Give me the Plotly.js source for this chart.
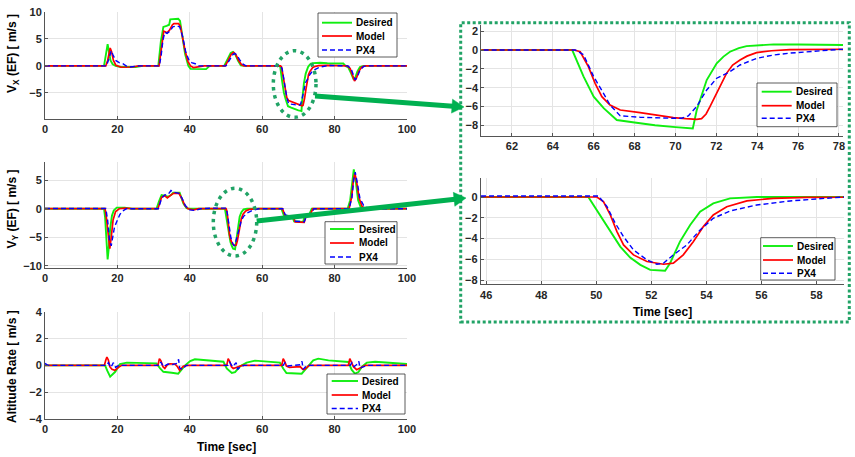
<!DOCTYPE html>
<html>
<head>
<meta charset="utf-8">
<script src="https://cdn.plot.ly/plotly-3.0.1.min.js"></script>
<style>html,body{margin:0;padding:0;background:#fff;}#chart{width:855px;height:457px;}</style>
</head>
<body>
<div id="chart"></div>
<script>
// ---------------- DATA (time [s], value) ----------------
const seriesNames = ['Desired', 'Model', 'PX4'];

const vxDesired = [[0,0],[16.3,0],[16.8,2.0],[17.3,4.0],[17.7,2.5],[18.1,1.0],[18.7,0.3],[19.5,0],[21,-0.2],[25,-0.2],[27,0],
  [31.3,0],[32.0,4.5],[32.7,7.2],[33.6,7.4],[34.3,7.6],[34.6,8.6],[36.8,8.7],[37.3,8.3],[37.9,6.0],[38.7,2.2],[39.6,0],[40.2,-0.55],[44.5,-0.6],[45.5,0],
  [49.5,0],[50.4,1.2],[51.3,2.4],[51.9,2.6],[52.5,2.2],[53.3,1.0],[54.1,0.1],[55,0],
  [64.95,0],[65.5,-2.8],[66.0,-4.96],[66.5,-6.2],[67.13,-7.44],[68,-7.7],[69,-8.0],[70,-8.2],[70.7,-8.3],[70.85,-8.35],[71.04,-6.4],[71.3,-4.7],[71.53,-3.19],[72.02,-1.42],[72.35,-0.7],[72.67,-0.18],[73.1,0.2],[73.48,0.42],[74,0.52],[74.8,0.6],[76,0.58],[78,0.5],[80,0.5],[82.4,0.45],[83,0],
  [83.8,-0.3],[84.5,-1.3],[85.2,-2.4],[85.7,-2.2],[86.3,-1.0],[87,-0.2],[88,0],[100,0]];
const vxModel = [[0,0],[16.8,0],[17.3,1.0],[17.7,2.5],[18.0,3.3],[18.4,2.6],[18.9,1.0],[19.6,0.1],[21,-0.25],[24,-0.2],[26,0],
  [31.5,0],[32.0,2.5],[32.4,5.0],[32.8,6.4],[33.2,6.3],[33.7,6.1],[34.4,6.6],[35.2,7.6],[35.6,7.8],[36.9,7.8],[37.4,7.3],[37.9,5.5],[38.7,2.8],[39.5,0.8],[40.2,0],[41,-0.3],[42.5,-0.2],[44,0],
  [49.8,0],[50.6,1.0],[51.5,2.2],[52.1,2.5],[52.7,2.1],[53.5,1.0],[54.3,0.2],[55,0],
  [65.05,0],[65.34,-0.18],[65.74,-1.77],[66.07,-3.54],[66.4,-4.96],[66.8,-5.85],[67.3,-6.38],[68.27,-6.66],[69.1,-6.95],[69.9,-7.19],[70.5,-7.3],[71.04,-7.37],[71.28,-7.3],[71.5,-6.8],[71.69,-6.02],[72.1,-4.25],[72.5,-2.48],[72.8,-1.6],[73.16,-1.06],[73.5,-0.65],[73.97,-0.28],[74.7,-0.08],[75.6,0.05],[78,0.08],[80,0.05],
  [83.5,0],[84.3,-0.5],[84.9,-1.8],[85.5,-2.8],[86.0,-2.3],[86.7,-1.0],[87.5,-0.2],[88.5,0],[100,0]];
const vxPX4 = [[0,0],[17.0,0],[17.6,1.2],[18.0,2.4],[18.3,2.8],[18.8,2.0],[19.5,1.0],[20.5,0.6],[21.5,0.4],[22.5,-0.05],[23.5,-0.2],[26,0],
  [31.6,0],[32.1,2.0],[32.6,4.8],[33.1,6.2],[33.7,6.0],[34.5,6.4],[35.3,7.2],[36.5,7.4],[37.2,7.2],[38,5.5],[38.9,2.5],[39.8,1.0],[40.5,0.6],[41.5,0.4],[42.5,0],
  [50,0],[50.8,1.0],[51.8,2.0],[52.4,2.3],[53,2.0],[53.8,1.1],[54.6,0.4],[55.5,0],
  [65.1,0],[65.5,-0.5],[66.0,-2.83],[66.48,-4.6],[66.8,-5.85],[67.3,-7.0],[68.27,-7.14],[69.9,-7.26],[70.3,-7.25],[70.63,-7.0],[71.04,-6.0],[71.53,-4.25],[72.02,-3.0],[72.67,-2.3],[73.16,-1.59],[73.97,-0.89],[74.79,-0.53],[75.6,-0.33],[76.42,-0.18],[77.2,-0.05],[78.05,0.07],[80,0.05],
  [83.7,0],[84.6,-0.6],[85.2,-1.9],[85.7,-2.6],[86.3,-2.0],[87,-0.8],[88,-0.1],[89,0],[100,0]];

const vyDesired = [[0,0],[16.3,0],[16.6,-1.5],[16.95,-5.0],[17.3,-8.9],[17.6,-7.0],[18.0,-3.5],[18.5,-1.2],[19.0,-0.3],[19.8,0.2],[22,0.2],[24,0],
  [30.8,0],[31.5,1.3],[32.2,2.4],[33,2.3],[34,2.1],[34.8,2.4],[35.4,2.8],[37.2,2.8],[37.7,2.0],[38.2,0.95],[39.1,0.1],[40,0],
  [49.71,0],[50.14,-1.73],[50.51,-3.33],[50.87,-4.77],[51.23,-5.83],[51.6,-6.53],[51.96,-7.01],[52.5,-7.1],[52.68,-6.37],[53.04,-4.29],[53.41,-2.69],[53.77,-1.41],[54.25,-0.61],[54.86,-0.13],[55.83,0],[59,0.02],
  [65.3,0],[66.0,-1.2],[68.3,-1.3],[68.8,-2.2],[71.3,-2.3],[71.8,-1.2],[73,-1.0],[73.7,0],
  [83.6,0],[84.3,1.5],[84.9,5.0],[85.3,6.9],[85.8,5.0],[86.5,1.5],[87.2,0.3],[88,0],[100,0]];
const vyModel = [[0,0],[16.6,0],[17.0,-1.8],[17.5,-5.5],[17.9,-7.0],[18.3,-5.0],[18.8,-2.0],[19.5,-0.5],[20.5,0],[22,0.1],[24,0],
  [31.2,0],[32.2,2.0],[33,2.3],[33.8,1.9],[34.6,2.3],[35.5,2.7],[37,2.7],[37.8,1.8],[38.6,0.6],[39.5,0],[41,-0.2],[42.5,0],
  [50.02,0],[50.26,-0.45],[50.51,-1.73],[50.75,-3.33],[50.99,-4.61],[51.35,-5.57],[51.84,-6.21],[52.44,-6.47],[52.8,-6.37],[53.16,-5.57],[53.53,-4.29],[53.89,-2.85],[54.25,-1.73],[54.74,-0.93],[55.47,-0.38],[56.43,-0.13],[57.64,-0.03],[59,0],
  [65.6,0],[66.3,-1.2],[68.6,-1.4],[69.1,-2.3],[71.6,-2.4],[72.1,-1.3],[73.3,-1.0],[74.0,0],
  [84,0],[84.7,2.0],[85.2,5.0],[85.6,6.2],[86,5.0],[86.8,1.8],[87.6,0.4],[88.5,0],[100,0]];
const vyPX4 = [[0,0.05],[16.8,0.05],[17.3,-2.0],[17.8,-5.5],[18.3,-6.5],[18.7,-5.0],[19.2,-3.2],[20,-2.0],[20.7,-1.0],[21.5,-0.4],[22.5,0],
  [31.3,0],[32.2,1.8],[33,2.4],[34,2.5],[34.8,3.2],[35.5,2.9],[37,2.7],[37.9,1.8],[38.8,0.5],[40,-0.2],[41.5,-0.3],[43,0],
  [45.8,0.1],[50.08,0.1],[50.39,-0.93],[50.69,-2.53],[50.99,-3.81],[51.35,-5.09],[51.84,-6.05],[52.2,-6.47],[52.44,-6.37],[52.8,-5.57],[53.29,-4.61],[53.77,-3.17],[54.25,-2.05],[54.86,-1.34],[55.83,-0.77],[57.04,-0.38],[58.25,-0.13],[58.97,0],
  [65.7,0],[66.4,-1.1],[68.7,-1.4],[69.2,-2.2],[71.6,-2.3],[72.2,-1.4],[73.5,-0.9],[74.3,0],
  [84,0],[84.8,2.0],[85.3,5.2],[85.7,6.4],[86.2,4.8],[87,1.8],[88,0.6],[89,0.2],[90,0],[100,0]];

const altDesired = [[0,0],[16.6,0],[17.2,-0.4],[18.0,-0.85],[19.4,-0.48],[20.7,0.1],[22.6,0.2],[30.8,0.15],
  [31.8,-0.23],[32.7,-0.48],[35.0,-0.55],[36.8,-0.62],[37.5,-0.4],[38.7,0],[40.1,0.32],[41.4,0.45],[49.3,0.27],
  [50.2,-0.23],[51.6,-0.57],[52.5,-0.5],[53.9,-0.07],[55.7,0.2],[58.0,0.35],[59.9,0.3],[64.9,0.2],
  [65.8,-0.23],[66.7,-0.57],[70.9,-0.62],[71.6,-0.4],[72.7,0],[74.1,0.37],[75.5,0.5],[78.3,0.37],[83.8,0.25],
  [84.7,-0.32],[85.6,-0.62],[86.6,-0.5],[87.5,-0.12],[88.9,0.2],[91.2,0.27],[100,0.1]];
const altModel = [[0,0],[16.4,0],[16.8,0.4],[17.1,0.62],[17.5,0.4],[17.9,-0.1],[18.5,-0.3],[19.3,-0.37],[20.3,-0.15],[21.2,0],
  [31.2,0],[31.6,0.5],[32.0,0.35],[32.6,-0.1],[33.1,-0.23],[33.8,0.05],[34.5,0.12],[35.9,0.1],[36.6,-0.1],[37.2,-0.37],[38.2,-0.07],[39.5,0],
  [50.2,0],[50.6,0.5],[51.0,0.3],[51.5,-0.1],[52.0,-0.23],[53.4,-0.1],[54.5,0],
  [65.4,0],[65.8,0.5],[66.2,0.3],[66.7,-0.05],[67.5,-0.15],[70.5,-0.1],[71.2,-0.3],[71.7,-0.3],[73,0],
  [83.8,0],[84.2,0.5],[84.6,0.3],[85.2,-0.1],[86.1,-0.32],[87.5,-0.1],[88.5,0],[100,0]];
const altPX4 = [[0,0.15],[0.8,0],[17,0],[17.5,0.2],[18.2,-0.15],[18.9,0.2],[19.5,-0.15],[20.3,0],
  [31.5,0],[32,0.25],[32.7,-0.1],[34,0.1],[35,0.05],[36.5,0.15],[36.9,0.45],[37.2,-0.2],[38,-0.3],[39,0],
  [50.5,0],[51,0.25],[51.8,-0.1],[52.8,0.2],[53.2,-0.3],[54,-0.1],[55,0],
  [65.8,0],[66.3,0.2],[67,-0.05],[70.5,0.05],[71,0.3],[71.3,-0.3],[72,-0.1],[73,0],
  [84.3,0],[84.8,0.2],[85.4,-0.1],[86.3,0.1],[86.7,0.3],[87,-0.2],[88,-0.1],[89,0],[100,0]];

const mainXTicks = [0, 20, 40, 60, 80, 100];
const vxYTicks = [-5, 0, 5, 10];
const vyYTicks = [-10, -5, 0, 5];
const altYTicks = [-4, -2, 0, 2, 4];
const zoomVxXTicks = [62, 64, 66, 68, 70, 72, 74, 76, 78];
const zoomVxYTicks = [2, 0, -2, -4, -6, -8];
const zoomVyXTicks = [46, 48, 50, 52, 54, 56, 58];
const zoomVyYTicks = [0, -2, -4, -6, -8];

// ---------------- STYLE / LAYOUT ----------------
const W = 855, H = 457;
const X = px => px / W;
const Y = py => 1 - py / H;
const FONT = 'Arial, "Liberation Sans", sans-serif';
const colors = ['#10ee10', '#ff0000', '#0000ff'];
const dashes = ['solid', 'solid', '5px,3px'];
const widths = [1.9, 1.7, 1.4];

const panelSeries = {
  vx: [vxDesired, vxModel, vxPX4],
  vy: [vyDesired, vyModel, vyPX4],
  alt: [altDesired, altModel, altPX4]
};

const traces = [];
function addPanel(series, xa, ya) {
  series.forEach((s, i) => {
    traces.push({
      type: 'scatter', mode: 'lines',
      x: s.map(p => p[0]), y: s.map(p => p[1]),
      xaxis: xa, yaxis: ya, name: seriesNames[i], showlegend: false,
      line: {color: colors[i], width: widths[i], dash: dashes[i]},
      hoverinfo: 'skip'
    });
  });
}
addPanel(panelSeries.vx, 'x', 'y');
addPanel(panelSeries.vy, 'x2', 'y2');
addPanel(panelSeries.alt, 'x3', 'y3');
addPanel(panelSeries.vx, 'x4', 'y4');
addPanel(panelSeries.vy, 'x5', 'y5');

function axis(extra) {
  return Object.assign({
    showline: true, linecolor: '#555', linewidth: 1, mirror: false,
    ticks: 'inside', ticklen: 3, tickcolor: '#555',
    showgrid: true, gridcolor: '#e4e4e4', gridwidth: 1, zeroline: false,
    tickfont: {family: FONT, size: 11, color: '#262626', weight: 'bold'},
    tickmode: 'array', fixedrange: true, automargin: false
  }, extra);
}

const layout = {
  width: W, height: H,
  margin: {l: 0, r: 0, t: 0, b: 0},
  paper_bgcolor: '#fff', plot_bgcolor: '#fff',
  showlegend: false,
  xaxis: axis({domain: [X(45), X(407)], range: [0, 100], tickvals: mainXTicks, anchor: 'y'}),
  yaxis: axis({domain: [Y(119), Y(11.7)], range: [-9.8, 10], tickvals: vxYTicks, anchor: 'x'}),
  xaxis2: axis({domain: [X(45), X(407)], range: [0, 100], tickvals: mainXTicks, anchor: 'y2'}),
  yaxis2: axis({domain: [Y(268), Y(161.7)], range: [-10.4, 8.25], tickvals: vyYTicks, anchor: 'x2'}),
  xaxis3: axis({domain: [X(45), X(407)], range: [0, 100], tickvals: mainXTicks, anchor: 'y3'}),
  yaxis3: axis({domain: [Y(419), Y(311.7)], range: [-4, 4], tickvals: altYTicks, anchor: 'x3'}),
  xaxis4: axis({domain: [X(481.3), X(843)], range: [60.5, 78.2], tickvals: zoomVxXTicks, anchor: 'y4'}),
  yaxis4: axis({domain: [Y(136), Y(25)], range: [-9.14, 2.66], tickvals: zoomVxYTicks, anchor: 'x4'}),
  xaxis5: axis({domain: [X(480.7), X(844)], range: [45.8, 59.0], tickvals: zoomVyXTicks, anchor: 'y5'}),
  yaxis5: axis({domain: [Y(284.3), Y(178.3)], range: [-8.4, 1.8], tickvals: zoomVyYTicks, anchor: 'x5'}),
  shapes: [],
  annotations: []
};

const shapes = layout.shapes, ann = layout.annotations;
const titleFont = {family: FONT, size: 12, color: '#000'};

// Axis titles
ann.push({xref: 'paper', yref: 'paper', x: X(12.5), y: Y(53.5), text: '<b>V<sub>X</sub> (EF) [ m/s ]</b>', textangle: -90, showarrow: false, font: titleFont, xanchor: 'center', yanchor: 'middle'});
ann.push({xref: 'paper', yref: 'paper', x: X(12.5), y: Y(209), text: '<b>V<sub>Y</sub> (EF) [ m/s ]</b>', textangle: -90, showarrow: false, font: titleFont, xanchor: 'center', yanchor: 'middle'});
ann.push({xref: 'paper', yref: 'paper', x: X(12), y: Y(367), text: '<b>Altitude Rate [ m/s ]</b>', textangle: -90, showarrow: false, font: titleFont, xanchor: 'center', yanchor: 'middle'});
ann.push({xref: 'paper', yref: 'paper', x: X(227), y: Y(447), text: '<b>Time [sec]</b>', showarrow: false, font: titleFont, xanchor: 'center', yanchor: 'middle'});
ann.push({xref: 'paper', yref: 'paper', x: X(662), y: Y(312), text: '<b>Time [sec]</b>', showarrow: false, font: titleFont, xanchor: 'center', yanchor: 'middle'});

// Legends (manual boxes)
function legendBox(x0, y0, x1, y1, lx0, lx1, tx, ys) {
  shapes.push({type: 'rect', xref: 'paper', yref: 'paper', x0: X(x0), x1: X(x1), y0: Y(y1), y1: Y(y0),
    line: {color: '#333', width: 0.8}, fillcolor: '#fff', layer: 'above'});
  seriesNames.forEach((nm, i) => {
    shapes.push({type: 'line', xref: 'paper', yref: 'paper', x0: X(lx0), x1: X(lx1), y0: Y(ys[i]), y1: Y(ys[i]),
      line: {color: colors[i], width: widths[i], dash: dashes[i]}, layer: 'above'});
    ann.push({xref: 'paper', yref: 'paper', x: X(tx), y: Y(ys[i]), text: '<b>' + nm + '</b>', showarrow: false,
      xanchor: 'left', yanchor: 'middle', font: {family: FONT, size: 10, color: '#000'}});
  });
}
legendBox(318, 13, 397, 57, 322, 352, 354, [22.7, 36, 50]);
legendBox(325, 221.7, 397, 264, 330, 354, 357, [229, 243, 257]);
legendBox(327, 374, 405, 414, 331.7, 358, 360, [381, 395, 408.5]);
legendBox(757, 83, 837, 126.7, 761.7, 791.7, 793.5, [91.7, 105.7, 118.3]);
legendBox(760.7, 237.7, 835, 280, 763, 793, 795, [246, 260, 273.3]);

// Dotted highlight ellipses and box
const hl = '#21a366';
shapes.push({type: 'circle', xref: 'paper', yref: 'paper', x0: X(273.3), x1: X(316), y0: Y(117.3), y1: Y(50.7),
  line: {color: hl, width: 3.5, dash: '3.5px,4.5px'}, layer: 'above'});
shapes.push({type: 'circle', xref: 'paper', yref: 'paper', x0: X(213.3), x1: X(256.7), y0: Y(256), y1: Y(188.3),
  line: {color: hl, width: 3.5, dash: '3.5px,4.5px'}, layer: 'above'});
shapes.push({type: 'rect', xref: 'paper', yref: 'paper', x0: X(460.7), x1: X(849.3), y0: Y(322), y1: Y(22.7),
  line: {color: hl, width: 3, dash: '3px,2.5px'}, layer: 'above'});

// Arrows
const arrowColor = '#00b050';
function arrow(sx, sy, tx, ty) {
  const dx = tx - sx, dy = ty - sy, L = Math.hypot(dx, dy);
  const ux = dx / L, uy = dy / L, head = 12, half = 7;
  const bx = tx - head * ux, by = ty - head * uy;
  shapes.push({type: 'line', xref: 'paper', yref: 'paper', x0: X(sx), y0: Y(sy), x1: X(bx + 1 * ux), y1: Y(by + 1 * uy),
    line: {color: arrowColor, width: 5}, layer: 'above'});
  const p1 = [bx - half * uy, by + half * ux], p2 = [bx + half * uy, by - half * ux];
  shapes.push({type: 'path', xref: 'paper', yref: 'paper',
    path: 'M ' + X(tx) + ' ' + Y(ty) + ' L ' + X(p1[0]) + ' ' + Y(p1[1]) + ' L ' + X(p2[0]) + ' ' + Y(p2[1]) + ' Z',
    fillcolor: arrowColor, line: {color: arrowColor, width: 0.5}, layer: 'above'});
}
arrow(315, 96, 464, 107);
arrow(256.7, 221, 466, 198);

Plotly.newPlot('chart', traces, layout, {displayModeBar: false, staticPlot: true});
</script>
</body>
</html>
